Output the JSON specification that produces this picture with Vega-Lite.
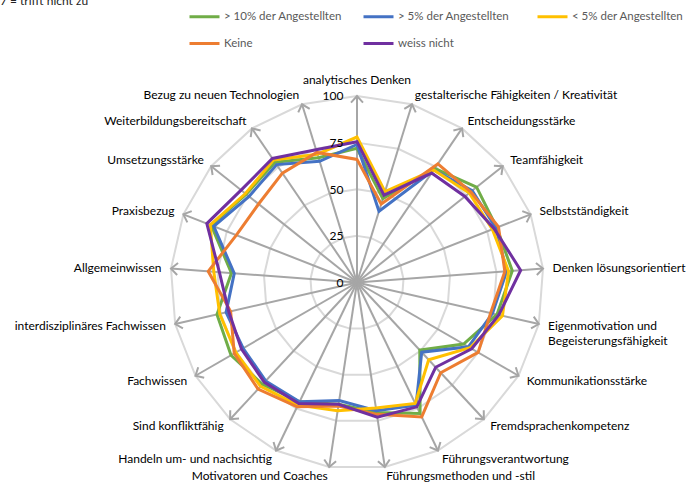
{
  "$schema": "https://vega.github.io/schema/vega-lite/v6.json",
  "width": 697,
  "height": 489,
  "autosize": {"type": "none"},
  "padding": 0,
  "background": "white",
  "config": {"view": {"stroke": null}, "font": "Lato"},
  "title": {"text": "7 = trifft nicht zu", "anchor": "start", "frame": "group", "offset": 0, "dy": 17, "baseline": "alphabetic", "fontSize": 12, "fontWeight": "normal", "color": "#222222", "font": "Lato"},
  "data": {"values": [
    {"Merkmal": "analytisches Denken", "> 10% der Angestellten": 72, "> 5% der Angestellten": 74, "< 5% der Angestellten": 78, "Keine": 66, "weiss nicht": 75.5},
    {"Merkmal": "gestalterische Fähigkeiten / Kreativität", "> 10% der Angestellten": 47, "> 5% der Angestellten": 40, "< 5% der Angestellten": 51, "Keine": 44, "weiss nicht": 49},
    {"Merkmal": "Entscheidungsstärke", "> 10% der Angestellten": 74, "> 5% der Angestellten": 73, "< 5% der Angestellten": 73, "Keine": 77, "weiss nicht": 71},
    {"Merkmal": "Teamfähigkeit", "> 10% der Angestellten": 82, "> 5% der Angestellten": 79, "< 5% der Angestellten": 77, "Keine": 78, "weiss nicht": 74},
    {"Merkmal": "Selbstständigkeit", "> 10% der Angestellten": 80.5, "> 5% der Angestellten": 80, "< 5% der Angestellten": 78, "Keine": 81.5, "weiss nicht": 79},
    {"Merkmal": "Denken lösungsorientiert", "> 10% der Angestellten": 83.5, "> 5% der Angestellten": 80.5, "< 5% der Angestellten": 81.5, "Keine": 79.5, "weiss nicht": 88},
    {"Merkmal": "Eigenmotivation und\nBegeisterungsfähigkeit", "> 10% der Angestellten": 77, "> 5% der Angestellten": 74.5, "< 5% der Angestellten": 80, "Keine": 73.5, "weiss nicht": 78},
    {"Merkmal": "Kommunikationsstärke", "> 10% der Angestellten": 66, "> 5% der Angestellten": 69, "< 5% der Angestellten": 70, "Keine": 75, "weiss nicht": 71},
    {"Merkmal": "Fremdsprachenkompetenz", "> 10% der Angestellten": 49.5, "> 5% der Angestellten": 51, "< 5% der Angestellten": 56.5, "Keine": 66, "weiss nicht": 62},
    {"Merkmal": "Führungsverantwortung", "> 10% der Angestellten": 78, "> 5% der Angestellten": 73, "< 5% der Angestellten": 72, "Keine": 80, "weiss nicht": 74},
    {"Merkmal": "Führungsmethoden und -stil", "> 10% der Angestellten": 70.5, "> 5% der Angestellten": 69.5, "< 5% der Angestellten": 68, "Keine": 71.5, "weiss nicht": 73},
    {"Merkmal": "Motivatoren und Coaches", "> 10% der Angestellten": 66, "> 5% der Angestellten": 64, "< 5% der Angestellten": 69.5, "Keine": 67, "weiss nicht": 66},
    {"Merkmal": "Handeln um- und nachsichtig", "> 10% der Angestellten": 71, "> 5% der Angestellten": 71, "< 5% der Angestellten": 73, "Keine": 74, "weiss nicht": 72},
    {"Merkmal": "Sind konfliktfähig", "> 10% der Angestellten": 74.5, "> 5% der Angestellten": 72, "< 5% der Angestellten": 76, "Keine": 78, "weiss nicht": 73},
    {"Merkmal": "Fachwissen", "> 10% der Angestellten": 78, "> 5% der Angestellten": 70.5, "< 5% der Angestellten": 75, "Keine": 76, "weiss nicht": 71.5},
    {"Merkmal": "interdisziplinäres Fachwissen", "> 10% der Angestellten": 77, "> 5% der Angestellten": 72, "< 5% der Angestellten": 75.5, "Keine": 69.5, "weiss nicht": 70.5},
    {"Merkmal": "Allgemeinwissen", "> 10% der Angestellten": 67.5, "> 5% der Angestellten": 66, "< 5% der Angestellten": 77, "Keine": 80, "weiss nicht": 74},
    {"Merkmal": "Praxisbezug", "> 10% der Angestellten": 84, "> 5% der Angestellten": 82.5, "< 5% der Angestellten": 84.5, "Keine": 69.5, "weiss nicht": 86.5},
    {"Merkmal": "Umsetzungsstärke", "> 10% der Angestellten": 76, "> 5% der Angestellten": 74, "< 5% der Angestellten": 76.5, "Keine": 67.5, "weiss nicht": 79.5},
    {"Merkmal": "Weiterbildungsbereitschaft", "> 10% der Angestellten": 78, "> 5% der Angestellten": 76.5, "< 5% der Angestellten": 79.5, "Keine": 71, "weiss nicht": 80.5},
    {"Merkmal": "Bezug zu neuen Technologien", "> 10% der Angestellten": 70, "> 5% der Angestellten": 68, "< 5% der Angestellten": 72, "Keine": 73, "weiss nicht": 74.5}
  ]},
  "transform": [
    {"window": [{"op": "row_number", "as": "nr"}]},
    {"calculate": "(datum.nr - 1) * 2 * PI / 21", "as": "ang"},
    {"calculate": "(datum.nr - 1) * 360 / 21", "as": "grad"}
  ],
  "encoding": {
    "x": {"field": "px", "type": "quantitative", "scale": {"domain": [-191.42, 182.31], "nice": false, "zero": false}, "axis": null},
    "y": {"field": "py", "type": "quantitative", "scale": {"domain": [-110.72, 151.47], "nice": false, "zero": false},
      "axis": {"values": [0, 25, 50, 75, 100], "offset": -357, "domain": false, "ticks": false, "tickSize": 0, "grid": false, "labelPadding": 14, "labelFontSize": 12, "labelFont": "Lato", "labelColor": "#000000", "labelOverlap": false, "title": null, "labelBaseline": "middle", "labelAlign": "right", "zindex": 2}}
  },
  "layer": [
    {
      "transform": [
        {"calculate": "25", "as": "r25"},
        {"calculate": "50", "as": "r50"},
        {"calculate": "75", "as": "r75"},
        {"calculate": "100", "as": "r100"},
        {"fold": ["r25", "r50", "r75", "r100"], "as": ["Ring", "Radius"]},
        {"calculate": "datum.Radius * sin(datum.ang)", "as": "px"},
        {"calculate": "datum.Radius * cos(datum.ang)", "as": "py"}
      ],
      "mark": {"type": "line", "interpolate": "linear-closed", "color": "#D9D9D9", "strokeWidth": 2},
      "encoding": {"detail": {"field": "Ring"}, "order": {"field": "nr", "type": "quantitative"}}
    },
    {
      "transform": [
        {"calculate": "100 * sin(datum.ang)", "as": "px"},
        {"calculate": "100 * cos(datum.ang)", "as": "py"}
      ],
      "mark": {"type": "rule", "color": "#A6A6A6", "strokeWidth": 2},
      "encoding": {"x2": {"datum": 0}, "y2": {"datum": 0}}
    },
    {
      "transform": [
        {"calculate": "100 * sin(datum.ang)", "as": "px"},
        {"calculate": "100 * cos(datum.ang)", "as": "py"}
      ],
      "mark": {"type": "point", "shape": "M-1,1.1L0,0L1,1.1", "filled": false, "color": "#A6A6A6", "strokeWidth": 2, "size": 144, "opacity": 1},
      "encoding": {"angle": {"field": "grad", "type": "quantitative", "scale": null}}
    },
    {
      "transform": [
        {"fold": ["> 10% der Angestellten", "> 5% der Angestellten", "< 5% der Angestellten", "Keine", "weiss nicht"], "as": ["Gruppe", "Wert"]},
        {"calculate": "datum.Wert * sin(datum.ang)", "as": "px"},
        {"calculate": "datum.Wert * cos(datum.ang)", "as": "py"}
      ],
      "mark": {"type": "line", "interpolate": "linear-closed", "strokeWidth": 3},
      "encoding": {
        "order": {"field": "nr", "type": "quantitative"},
        "color": {"field": "Gruppe", "type": "nominal",
          "scale": {"domain": ["> 10% der Angestellten", "> 5% der Angestellten", "< 5% der Angestellten", "Keine", "weiss nicht"], "range": ["#70AD47", "#4472C4", "#FFC000", "#ED7D31", "#7030A0"]},
          "legend": {"title": null, "orient": "none", "legendX": 188, "legendY": 0, "direction": "horizontal", "columns": 3, "gridAlign": "all", "columnPadding": 14, "rowPadding": 4, "symbolType": "stroke", "symbolSize": 900, "symbolStrokeWidth": 3, "labelOffset": 3, "labelFontSize": 11.5, "labelFont": "Lato", "labelColor": "#595959", "labelLimit": 400, "padding": 0}}
      }
    },
    {
      "transform": [
        {"filter": "datum.nr >= 2 && datum.nr <= 11"},
        {"calculate": "105.1 * sin(datum.ang)", "as": "px"},
        {"calculate": "105.1 * cos(datum.ang)", "as": "py"}
      ],
      "mark": {"type": "text", "align": "left", "baseline": "middle", "fontSize": 12, "font": "Lato", "color": "#000000", "lineBreak": "\n", "lineHeight": 15},
      "encoding": {"text": {"field": "Merkmal"}}
    },
    {
      "transform": [
        {"filter": "datum.nr >= 12"},
        {"calculate": "105.1 * sin(datum.ang)", "as": "px"},
        {"calculate": "105.1 * cos(datum.ang)", "as": "py"}
      ],
      "mark": {"type": "text", "align": "right", "baseline": "middle", "fontSize": 12, "font": "Lato", "color": "#000000"},
      "encoding": {"text": {"field": "Merkmal"}}
    },
    {
      "transform": [
        {"filter": "datum.nr == 1"},
        {"calculate": "105.1 * sin(datum.ang)", "as": "px"},
        {"calculate": "105.1 * cos(datum.ang)", "as": "py"}
      ],
      "mark": {"type": "text", "align": "center", "baseline": "middle", "dy": -6, "fontSize": 12, "font": "Lato", "color": "#000000"},
      "encoding": {"text": {"field": "Merkmal"}}
    }
  ]
}
